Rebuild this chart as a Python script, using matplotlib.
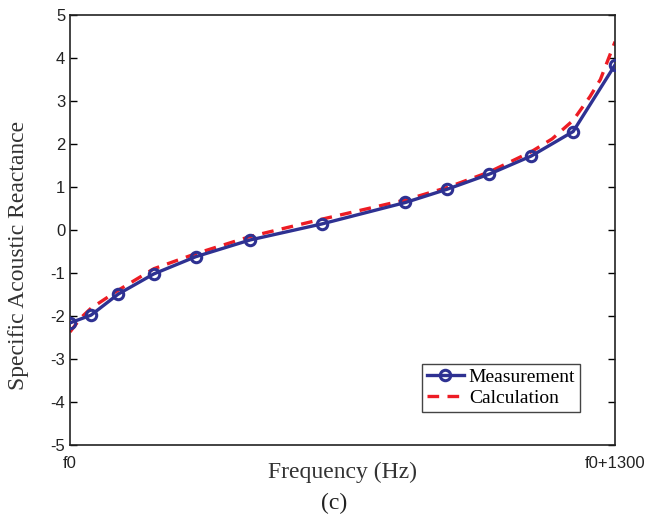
import matplotlib
matplotlib.use('Agg')
import matplotlib.pyplot as plt

plt.rcParams['axes.unicode_minus'] = False

# measured specific acoustic reactance (offset from f0, Hz)
meas_f = [0, 50, 115, 200, 300, 430, 600, 800, 900, 1000, 1100, 1200, 1300]
meas_x = [-2.16, -1.98, -1.49, -1.02, -0.62, -0.23, 0.14, 0.64, 0.95, 1.30, 1.72, 2.29, 3.84]

# calculated curve
calc_f = [0, 25, 50, 115, 200, 300, 430, 600, 800, 900, 1000, 1100, 1150, 1200, 1240, 1265, 1300]
calc_x = [-2.37, -2.05, -1.82, -1.40, -0.90, -0.55, -0.15, 0.25, 0.70, 0.99, 1.35, 1.82, 2.12, 2.55, 3.1, 3.5, 4.38]

xtick_pos = [0, 1300]
xtick_labels = ['f0', 'f0+1300']
ytick_pos = [-5, -4, -3, -2, -1, 0, 1, 2, 3, 4, 5]

serif = ['Liberation Serif', 'DejaVu Serif']
sans = ['Liberation Sans', 'DejaVu Sans']

fig = plt.figure(figsize=(6.46, 5.18), dpi=100)
ax = fig.add_axes([0.1084, 0.1409, 0.8437, 0.8301])

ax.plot(meas_f, meas_x, '-o', color='#2E3192', lw=2.4, ms=7.5, mfc='none', mew=2.2,
        label='Measurement', zorder=3)
ax.plot(calc_f, calc_x, '--', color='#ED1C24', lw=2.4, dashes=(3.5, 2.5),
        label='Calculation', zorder=2)

ax.set_xlim(0, 1300)
ax.set_ylim(-5, 5)
ax.set_xticks(xtick_pos)
ax.set_xticklabels(xtick_labels)
ax.set_yticks(ytick_pos)
ax.tick_params(direction='in', length=5, width=1, right=True, top=False, labelsize=12)
ax.tick_params(axis='x', length=0, pad=8)
for lab in ax.get_xticklabels() + ax.get_yticklabels():
    lab.set_family(sans)
    lab.set_color('#222222')
for s in ax.spines.values():
    s.set_linewidth(1.2)
    s.set_color('#222222')

ax.set_xlabel('Frequency (Hz)', family=serif, fontsize=17, color='#333333')
ax.xaxis.set_label_coords(0.5, -0.038)
ax.set_ylabel('Specific Acoustic Reactance', family=serif, fontsize=17, color='#333333')
ax.yaxis.set_label_coords(-0.075, 0.442)

fig.text(0.517, 0.029, '(c)', family=serif, fontsize=17, ha='center', va='center', color='#222222')

leg = ax.legend(loc='lower right', bbox_to_anchor=(0.936, 0.0775), borderaxespad=0,
                fancybox=False, framealpha=1, edgecolor='#444444',
                prop={'family': serif, 'size': 14}, handlelength=1.9,
                borderpad=0.25, labelspacing=0.15, handletextpad=0.25)
leg.get_frame().set_linewidth(1.0)

fig.savefig('out.png', dpi=100)
